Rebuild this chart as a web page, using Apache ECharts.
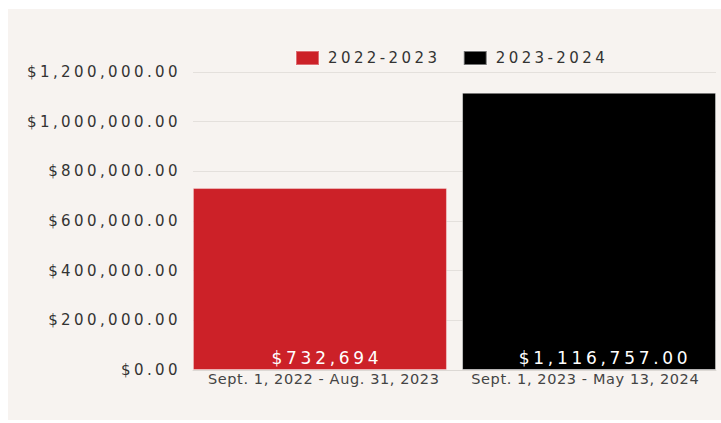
<!DOCTYPE html>
<html>
<head>
<meta charset="utf-8">
<script src="https://cdn.jsdelivr.net/npm/echarts@6/dist/echarts.min.js"></script>
<style>
  html, body { margin: 0; padding: 0; background: #ffffff; }
  #panel { position: absolute; left: 8px; top: 9px; width: 713px; height: 411px; background: #f7f3f0; }
  #chart { position: absolute; left: 0; top: 0; width: 721px; height: 423px; }
  /* wide, tracked lettering for the money figures and legend */
  #chart text[style*="15px"], #chart text[font-size="15px"], #chart text[font-size="15"] { letter-spacing: 3.4px; }
  #chart text[style*="17px"], #chart text[font-size="17px"], #chart text[font-size="17"] { letter-spacing: 3.7px; }
  #chart text[style*="14.5px"], #chart text[font-size="14.5px"], #chart text[font-size="14.5"] { letter-spacing: 0.6px; }
</style>
</head>
<body>
<div id="panel"></div>
<div id="chart"></div>
<script>
// Reporting periods (x categories)
const periods = ['Sept. 1, 2022 - Aug. 31, 2023', 'Sept. 1, 2023 - May 13, 2024'];
// Series names
const seriesNames = ['2022-2023', '2023-2024'];
// Totals per period, one series per fiscal year
const totals2022 = [732694, null];
const totals2023 = [null, 1116757];
// Value axis range
const yMin = 0;
const yMax = 1200000;
const yStep = 200000;

const money = (v, digits) =>
  '$' + Number(v).toLocaleString('en-US', { minimumFractionDigits: digits, maximumFractionDigits: digits });

const chart = echarts.init(document.getElementById('chart'), null, { renderer: 'svg' });

chart.setOption({
  animation: false,
  backgroundColor: 'transparent',
  legend: {
    data: seriesNames,
    left: 290,
    top: 45,
    icon: 'rect',
    itemWidth: 23,
    itemHeight: 14,
    itemGap: 53,
    textStyle: { fontFamily: 'DejaVu Sans', fontSize: 15, color: '#333333', padding: [0, 0, 0, 4] }
  },
  grid: { left: 193, right: 5, top: 72, bottom: 53 },
  xAxis: {
    type: 'category',
    data: periods,
    axisTick: { show: false },
    axisLine: { lineStyle: { color: '#dcd8d4', width: 1 } },
    axisLabel: { interval: 0, fontFamily: 'DejaVu Sans', fontSize: 14.5, color: '#444444', margin: 1 }
  },
  yAxis: {
    type: 'value',
    min: yMin,
    max: yMax,
    interval: yStep,
    axisLine: { show: false },
    axisTick: { show: false },
    splitLine: { lineStyle: { color: '#e4e0dc', width: 1 } },
    axisLabel: {
      fontFamily: 'DejaVu Sans',
      fontSize: 15,
      color: '#333333',
      margin: 12,
      formatter: v => money(v, 2)
    }
  },
  series: [
    {
      name: seriesNames[0],
      type: 'bar',
      data: totals2022,
      barWidth: 254,
      barGap: '-97%',
      itemStyle: { color: '#cc2128', borderColor: 'rgba(255,255,255,0.35)', borderWidth: 1 },
      label: {
        show: true,
        position: 'insideBottom',
        distance: 4,
        offset: [7, 0],
        color: '#ffffff',
        fontFamily: 'DejaVu Sans',
        fontSize: 17,
        formatter: p => money(p.value, 0)
      }
    },
    {
      name: seriesNames[1],
      type: 'bar',
      data: totals2023,
      barWidth: 254,
      itemStyle: { color: '#000000', borderColor: 'rgba(255,255,255,0.45)', borderWidth: 1 },
      label: {
        show: true,
        position: 'insideBottom',
        distance: 4,
        offset: [16, 0],
        color: '#ffffff',
        fontFamily: 'DejaVu Sans',
        fontSize: 17,
        formatter: p => money(p.value, 2)
      }
    }
  ]
});
</script>
</body>
</html>
